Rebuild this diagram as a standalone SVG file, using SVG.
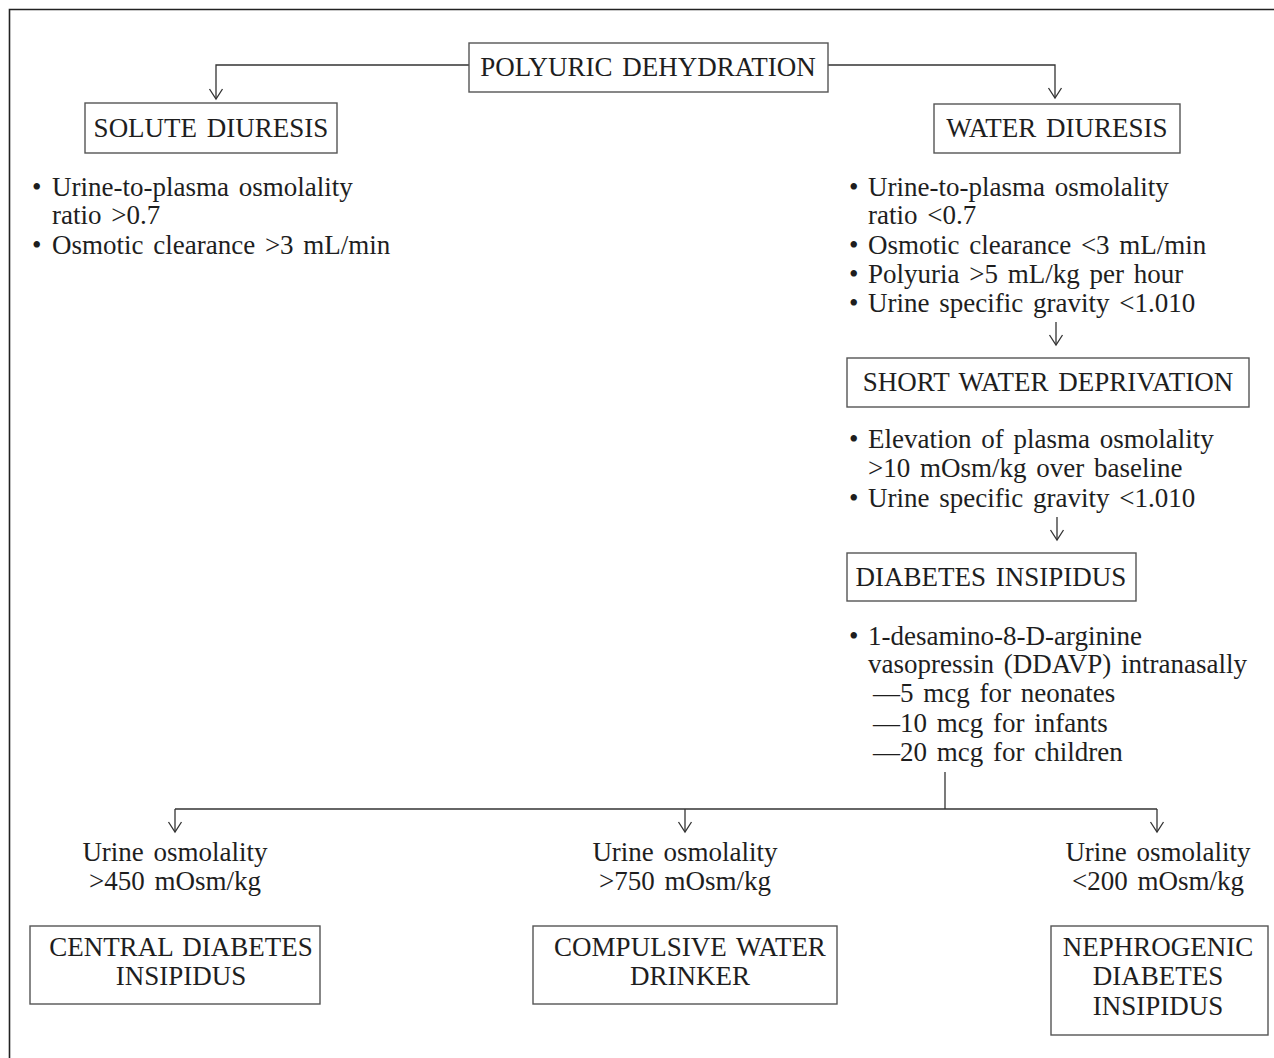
<svg xmlns="http://www.w3.org/2000/svg" width="1274" height="1058" viewBox="0 0 1274 1058">
<defs>
<style>
text{font-family:"Liberation Serif","Times New Roman",serif;font-size:27px;fill:#1e1e1e;word-spacing:3px}
.c{text-anchor:middle}
.box{fill:#fff;stroke:#555;stroke-width:1.4}
.ln{fill:none;stroke:#333;stroke-width:1.3}
</style>
<marker id="ah" viewBox="-8 -12 16 14" markerWidth="16" markerHeight="14" refX="0" refY="0" markerUnits="userSpaceOnUse" orient="0">
<path d="M-6.5,-10 L0,0 L6.5,-10" fill="none" stroke="#333" stroke-width="1.3"/>
</marker>
</defs>
<rect width="1274" height="1058" fill="#fff"/>
<path d="M9.5,1058 V9.5 H1274" fill="none" stroke="#222" stroke-width="1.6"/>

<g id="connectors">
<path class="ln" d="M469,65 H216 V99" marker-end="url(#ah)"/>
<path class="ln" d="M828,65 H1055 V98" marker-end="url(#ah)"/>
<path class="ln" d="M1056,322 V345" marker-end="url(#ah)"/>
<path class="ln" d="M1057,517 V540" marker-end="url(#ah)"/>
<path class="ln" d="M945,772 V809"/>
<path class="ln" d="M175,809 H1157"/>
<path class="ln" d="M175,809 V832" marker-end="url(#ah)"/>
<path class="ln" d="M685,809 V832" marker-end="url(#ah)"/>
<path class="ln" d="M1157,809 V832" marker-end="url(#ah)"/>
</g>

<g id="polyuric">
<rect class="box" x="469" y="43" width="359" height="49"/>
<text class="c" x="648" y="76">POLYURIC DEHYDRATION</text>
</g>

<g id="solute">
<rect class="box" x="85" y="103" width="252" height="50"/>
<text class="c" x="211" y="137">SOLUTE DIURESIS</text>
</g>

<g id="solute-criteria">
<text x="32" y="196">•</text><text x="52" y="196">Urine-to-plasma osmolality</text>
<text x="52" y="224">ratio &gt;0.7</text>
<text x="32" y="254">•</text><text x="52" y="254">Osmotic clearance &gt;3 mL/min</text>
</g>

<g id="water">
<rect class="box" x="934" y="104" width="246" height="49"/>
<text class="c" x="1057" y="137">WATER DIURESIS</text>
</g>

<g id="water-criteria">
<text x="849" y="196">•</text><text x="868" y="196">Urine-to-plasma osmolality</text>
<text x="868" y="224">ratio &lt;0.7</text>
<text x="849" y="254">•</text><text x="868" y="254">Osmotic clearance &lt;3 mL/min</text>
<text x="849" y="283">•</text><text x="868" y="283">Polyuria &gt;5 mL/kg per hour</text>
<text x="849" y="312">•</text><text x="868" y="312">Urine specific gravity &lt;1.010</text>
</g>

<g id="short">
<rect class="box" x="847" y="358" width="402" height="49"/>
<text class="c" x="1048" y="391">SHORT WATER DEPRIVATION</text>
</g>

<g id="short-criteria">
<text x="849" y="448">•</text><text x="868" y="448">Elevation of plasma osmolality</text>
<text x="868" y="477">&gt;10 mOsm/kg over baseline</text>
<text x="849" y="507">•</text><text x="868" y="507">Urine specific gravity &lt;1.010</text>
</g>

<g id="di">
<rect class="box" x="847" y="553" width="289" height="48"/>
<text class="c" x="991" y="586">DIABETES INSIPIDUS</text>
</g>

<g id="ddavp">
<text x="849" y="645">•</text><text x="868" y="645">1-desamino-8-D-arginine</text>
<text x="868" y="673">vasopressin (DDAVP) intranasally</text>
<text x="873" y="702">—5 mcg for neonates</text>
<text x="873" y="732">—10 mcg for infants</text>
<text x="873" y="761">—20 mcg for children</text>
</g>

<g id="uosm-450">
<text class="c" x="175" y="861">Urine osmolality</text>
<text class="c" x="175" y="890">&gt;450 mOsm/kg</text>
</g>
<g id="uosm-750">
<text class="c" x="685" y="861">Urine osmolality</text>
<text class="c" x="685" y="890">&gt;750 mOsm/kg</text>
</g>
<g id="uosm-200">
<text class="c" x="1158" y="861">Urine osmolality</text>
<text class="c" x="1158" y="890">&lt;200 mOsm/kg</text>
</g>

<g id="central">
<rect class="box" x="30" y="926" width="290" height="78"/>
<text class="c" x="181" y="956">CENTRAL DIABETES</text>
<text class="c" x="181" y="985">INSIPIDUS</text>
</g>

<g id="compulsive">
<rect class="box" x="533" y="926" width="304" height="78"/>
<text class="c" x="690" y="956">COMPULSIVE WATER</text>
<text class="c" x="690" y="985">DRINKER</text>
</g>

<g id="nephrogenic">
<rect class="box" x="1051" y="926" width="217" height="109"/>
<text class="c" x="1158" y="956">NEPHROGENIC</text>
<text class="c" x="1158" y="985">DIABETES</text>
<text class="c" x="1158" y="1015">INSIPIDUS</text>
</g>
</svg>
